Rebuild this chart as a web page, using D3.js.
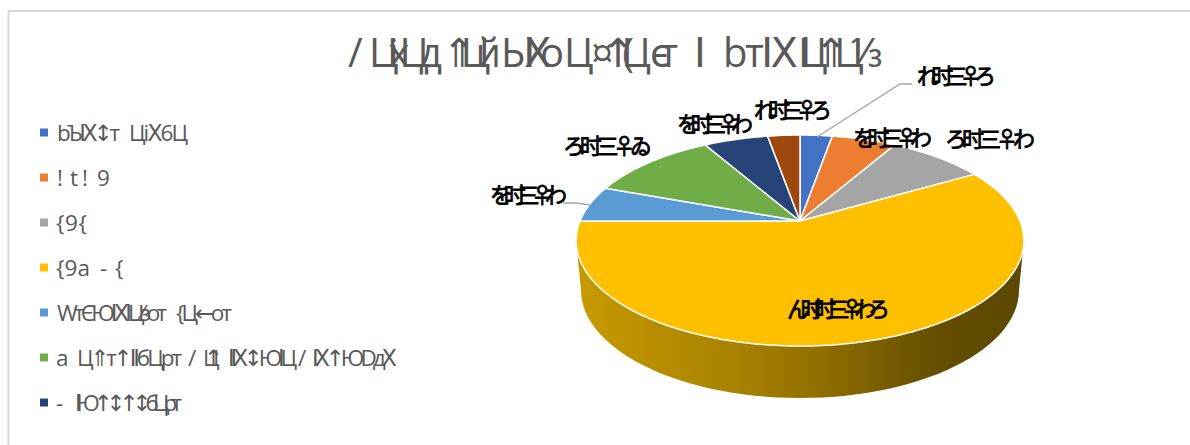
<!DOCTYPE html>
<html>
<head>
<meta charset="utf-8">
<script src="https://cdn.jsdelivr.net/npm/d3@7/dist/d3.min.js"></script>
<style>
html,body{margin:0;padding:0;background:#fff;overflow:hidden}
svg{display:block}
text{font-family:"Open Sans","Noto Sans","DejaVu Sans",sans-serif}
</style>
</head>
<body>
<svg id="chart" width="1190" height="445"></svg>
<script>
// Chart content
const titleRuns = ["/", "ЦixЦд", "⇑Цй", "ЫⅠⅩо", "Ц", "¤↑(Ц", "ϵт", "Ⅰ", "bтⅠⅩ", "ⅠЦ⇑Ц⅓"];
const categories = [
  ["bЪⅠⅩ↕т", "ЦiⅩ6Ц"],
  ["!", "t", "!", "9"],
  ["{9{"],
  ["{9a", "-", "{"],
  ["WтЄЮⅠⅩⅠЦ⁄зот", "{Ц←от"],
  ["a", "Ц⇑т↑ⅠⅠбЦрт", "/", "Ц↑", "ⅠⅠⅩ↕ЮⅠЦ", "/", "ⅠⅩ↑ЮDдⅩ"],
  ["-", "ⅠⅠЮ↑↕↑↕бЦрт"]
];
const counts = [1, 2, 3, 21, 2, 4, 2, 1];
const valueLabels = ["れ时三♀ろ", "を时三♀わ", "ろ时三♀わ", "ん时时三♀わろ", "を时三♀わ", "ろ时三♀ゐ", "を时三♀わ", "れ时三♀ろ"];
const sliceColors = ["#4472C4", "#ED7D31", "#A5A5A5", "#FFC000", "#5B9BD5", "#70AD47", "#264478", "#9E480E"];

// Layout
const titleSpans = [[348,359],[369,442],[442,501],[501,564],[564,589],[591,651],[650,678],[694,709],[723,798],[798,882]];
const legendSpans = [
  [[57,120],[129,188]],
  [[57,62],[70,77],[82,87],[97,109]],
  [[56,87]],
  [[56,90],[100,106],[115,123]],
  [[57,167],[176,232]],
  [[56,67],[77,182],[188,195],[203,223],[228,297],[298,305],[312,397]],
  [[56,63],[75,182]]
];
const labelBoxes = [[917,996,84],[853,932,146],[945,1035,147],[787,890,317],[490,567,203],[563,652,154],[677,753,132],[754,832,118]];

const svg = d3.select("#chart");

// Chart area outline: left and top edges run off the page
svg.append("path").attr("d", "M8.5,445V11H1190")
  .attr("fill", "none").attr("stroke", "#D9D9D9").attr("stroke-width", 2);

// Title
svg.append("g").selectAll("text").data(titleRuns).join("text")
  .attr("x", (d, i) => titleSpans[i][0])
  .attr("y", 67)
  .attr("font-size", 40)
  .attr("fill", "#595959")
  .attr("textLength", (d, i) => titleSpans[i][1] - titleSpans[i][0])
  .attr("lengthAdjust", "spacing")
  .text(d => d);

// Legend
const legendY = d3.scalePoint().domain(d3.range(categories.length)).range([132.5, 402.5]);
const legend = svg.append("g").selectAll("g").data(categories).join("g")
  .attr("transform", (d, i) => `translate(0,${legendY(i)})`);
legend.append("rect").attr("x", 40).attr("y", -4).attr("width", 8).attr("height", 8)
  .attr("fill", (d, i) => sliceColors[i]);
legend.each(function (runs, row) {
  d3.select(this).selectAll("text").data(runs).join("text")
    .attr("x", (d, i) => legendSpans[row][i][0])
    .attr("y", 8)
    .attr("font-size", 22.5).attr("fill", "#595959")
    .attr("textLength", (d, i) => legendSpans[row][i][1] - legendSpans[row][i][0])
    .attr("lengthAdjust", "spacing")
    .text(d => d);
});

// Tilted pie: a unit circle seen in perspective, so the hub sits above the rim's centre
const hub = { x: 800, y: 221 };
const radiusX = 220, depthScale = 101.9, tilt = 0.185;
function project(angle) {
  const x = Math.sin(angle), toward = -Math.cos(angle);
  const w = 1 - tilt * toward;
  return [hub.x + radiusX * x / w, hub.y + depthScale * toward / w];
}

// Side wall of the large front slice
const defs = svg.append("defs");
const wallGrad = defs.append("linearGradient").attr("id", "wall")
  .attr("gradientUnits", "userSpaceOnUse").attr("x1", 578).attr("x2", 1024).attr("y1", 0).attr("y2", 0);
wallGrad.selectAll("stop").data([[0,"#C79A00"],[0.35,"#A88200"],[0.55,"#8F6E00"],[0.8,"#654E00"],[1,"#5C4700"]]).join("stop")
  .attr("offset", d => d[0]).attr("stop-color", d => d[1]);

const rimCentre = { x: 800, y: 240, rx: 224 };
const base = { x: 800, y: 290, rx: 219, ry: 108 };
const basePts = d3.range(0, 181, 3).map(t => {
  const r = t * Math.PI / 180;
  return [base.x + base.rx * Math.cos(r), base.y + base.ry * Math.sin(r)];
});
const wallPts = [[rimCentre.x + rimCentre.rx, rimCentre.y], ...basePts, [rimCentre.x - rimCentre.rx, rimCentre.y]];
svg.append("path").attr("d", d3.line()(wallPts) + "Z").attr("fill", "url(#wall)");

// Slices
const pie = d3.pie().sort(null).value(d => d);
const arcs = pie(counts);
const sliceLine = d3.line();
svg.append("g").selectAll("path").data(arcs).join("path")
  .attr("d", d => {
    const steps = Math.max(4, Math.ceil((d.endAngle - d.startAngle) / 0.02));
    const pts = d3.range(steps + 1).map(i => project(d.startAngle + (d.endAngle - d.startAngle) * i / steps));
    return sliceLine([[hub.x, hub.y], ...pts]) + "Z";
  })
  .attr("fill", (d, i) => sliceColors[i])
  .attr("stroke", "#fff").attr("stroke-width", 1.5).attr("stroke-linejoin", "round");

// Leader lines
const leaders = [[[817,137],[900,84],[912,84]], [[563,203],[576,203],[590,205]]];
svg.append("g").selectAll("path").data(leaders).join("path")
  .attr("d", d => d3.line()(d))
  .attr("fill", "none").attr("stroke", "#A6A6A6").attr("stroke-width", 1.3);

// Value labels
svg.append("g").selectAll("text").data(valueLabels).join("text")
  .attr("x", (d, i) => labelBoxes[i][0])
  .attr("y", (d, i) => labelBoxes[i][2])
  .attr("textLength", (d, i) => labelBoxes[i][1] - labelBoxes[i][0])
  .attr("lengthAdjust", "spacing")
  .attr("font-size", 22)
  .attr("fill", "#000").attr("stroke", "#000").attr("stroke-width", 0.8)
  .style("font-family", '"Noto Sans CJK JP","Noto Sans",sans-serif')
  .text(d => d);
</script>
</body>
</html>
